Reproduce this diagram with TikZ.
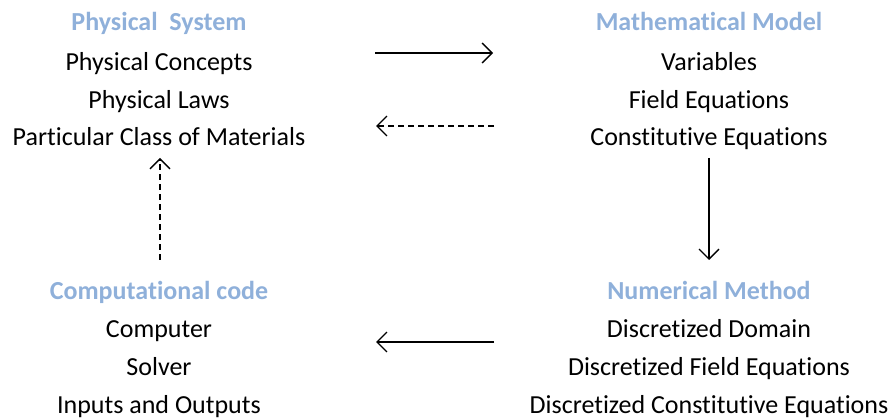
\documentclass[tikz,border=0pt]{standalone}
\usepackage{fontspec}
\setmainfont[Ligatures={NoCommon}]{Carlito}
\usetikzlibrary{arrows.meta}
\definecolor{headblue}{RGB}{143,176,218}
\tikzset{
  head/.style={font=\fontsize{26}{30}\selectfont\bfseries, text=headblue, inner sep=0pt, anchor=base},
  item/.style={font=\fontsize{26}{30}\selectfont, text=black, inner sep=0pt, anchor=base},
  flow/.style={line width=1.3pt, -{Straight Barb[length=10pt,width=20pt,line width=1.3pt]}},
  back/.style={flow, dash pattern=on 6pt off 4pt}
}
\begin{document}
\begin{tikzpicture}[x=1pt,y=-1pt]
  \useasboundingbox (0,0) rectangle (892,419);
  % Physical system
  \node[head] (phys) at (159,31) {Physical\ \ System};
  \node[item] (phys1) at (159,71) {Physical Concepts};
  \node[item] (phys2) at (159,109) {Physical Laws};
  \node[item] (phys3) at (159,146) {Particular Class of Materials};
  % Mathematical model
  \node[head] (math) at (709,31) {Mathematical Model};
  \node[item] (math1) at (709,71) {Variables};
  \node[item] (math2) at (709,109) {Field Equations};
  \node[item] (math3) at (709,146) {Constitutive Equations};
  % Computational code
  \node[head] (comp) at (159,300) {Computational code};
  \node[item] (comp1) at (159,338) {Computer};
  \node[item] (comp2) at (159,376) {Solver};
  \node[item] (comp3) at (159,414) {Inputs and Outputs};
  % Numerical method
  \node[head] (num) at (709,300) {Numerical Method};
  \node[item] (num1) at (709,338) {Discretized Domain};
  \node[item] (num2) at (709,376) {Discretized Field Equations};
  \node[item] (num3) at (709,414) {Discretized Constitutive Equations};
  % arrow end points
  \coordinate (aL) at (375,53);  \coordinate (aR) at (493,53);
  \coordinate (bR) at (494,126); \coordinate (bL) at (376,126);
  \coordinate (cT) at (709,158); \coordinate (cB) at (709,260);
  \coordinate (dR) at (494,342); \coordinate (dL) at (376,342);
  \coordinate (eB) at (160,260); \coordinate (eT) at (160,158);
  \draw[flow] (aL) -- (aR);
  \draw[back] (bR) -- (bL);
  \draw[flow] (cT) -- (cB);
  \draw[flow] (dR) -- (dL);
  \draw[back] (eB) -- (eT);
\end{tikzpicture}
\end{document}
